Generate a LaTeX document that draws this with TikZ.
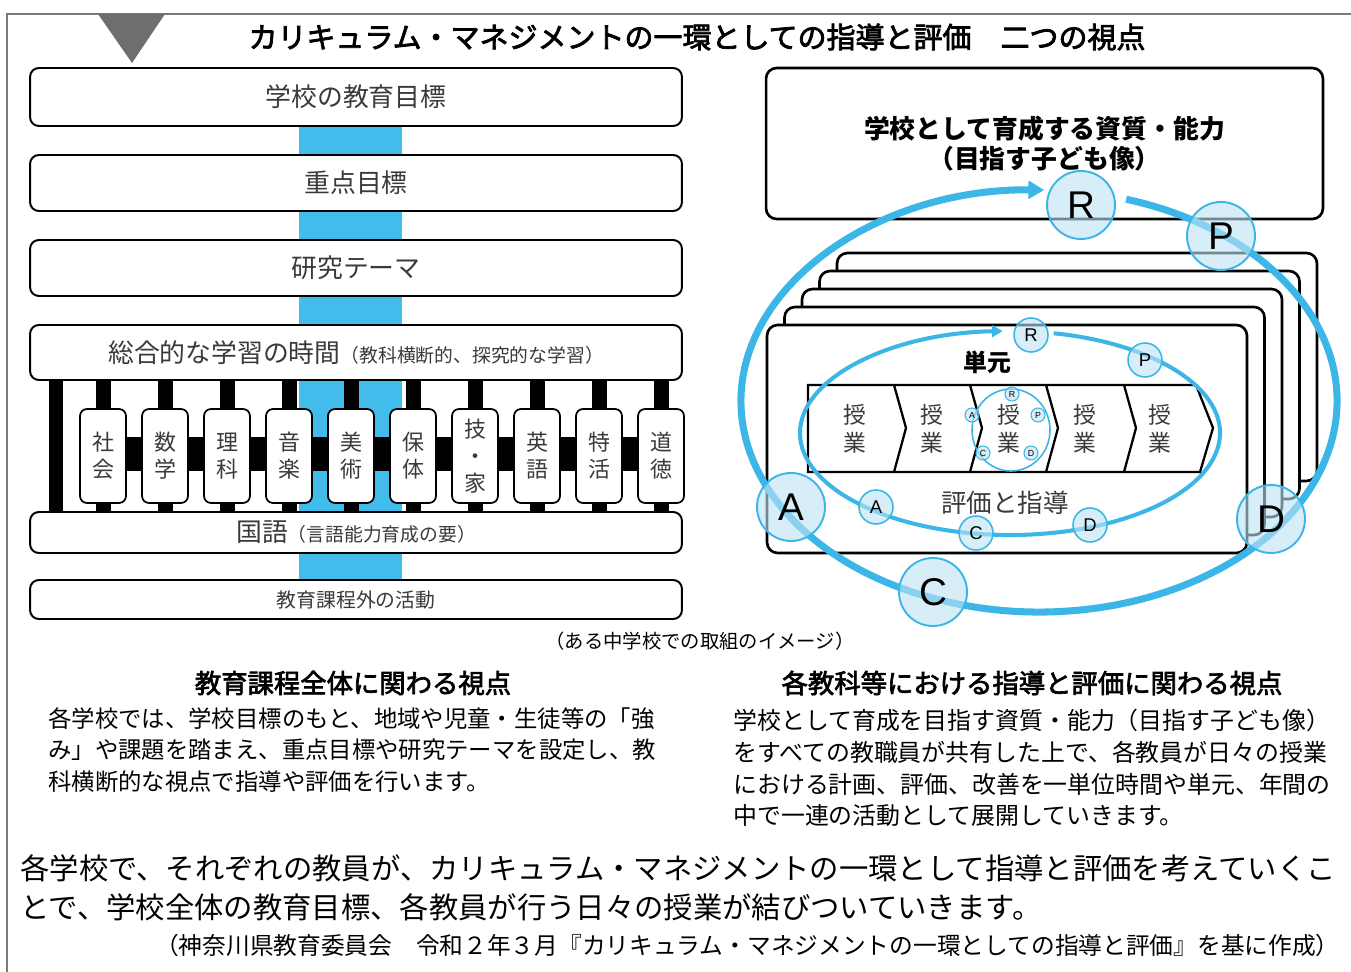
\documentclass[tikz,border=0pt]{standalone}
\usepackage{fontspec}
\setmainfont{Noto Sans CJK JP}
\newfontfamily\latinfont{Liberation Sans}
\newfontfamily\headfont[FakeBold=2.6]{Noto Sans CJK JP}
\usetikzlibrary{arrows.meta,positioning}

\definecolor{loopblue}{HTML}{3BB6E6}
\definecolor{dotfill}{HTML}{BDE3F4}
\definecolor{bandblue}{HTML}{42BCEB}
\definecolor{framegray}{HTML}{7A7A7A}
\definecolor{inkgray}{HTML}{3A3A3A}

\begin{document}
\begin{tikzpicture}[x=0.02cm,y=-0.02cm,
  lbox/.style={draw, line width=1.1pt, rounded corners=5pt, fill=white,
    minimum width=13.04cm, inner sep=0pt, text=inkgray},
  subj/.style={draw, line width=1pt, rounded corners=4pt, fill=white,
    minimum width=0.92cm, minimum height=1.88cm, inner sep=0pt, align=center,
    text=inkgray, font=\fontsize{12.5}{15.5}\selectfont},
  card/.style={draw, line width=1.5pt, rounded corners=6pt, fill=white},
  lesson/.style={align=center, text=inkgray, font=\fontsize{13}{16}\selectfont},
  bigdot/.style={circle, draw=loopblue, line width=1.1pt, fill=dotfill, fill opacity=0.6,
    text opacity=1, minimum size=1.36cm, inner sep=0pt, font=\latinfont\fontsize{22}{22}\selectfont},
  middot/.style={bigdot, line width=0.9pt, minimum size=0.68cm, font=\latinfont\fontsize{10.5}{10.5}\selectfont},
  tinydot/.style={bigdot, line width=0.6pt, minimum size=0.28cm, font=\latinfont\fontsize{5}{5}\selectfont},
  plain/.style={inner sep=0pt, align=left}]

\useasboundingbox (0,0) rectangle (1351,972);

% frame and marker
\draw[framegray, line width=1.2pt] (7,972) -- (7,14) -- (1351,14);
\fill[framegray!90!black] (98,14) -- (165,14) -- (132,63) -- cycle;

\node[font=\headfont\fontsize{16.5}{18}\selectfont] (title) at (697,37)
  {カリキュラム・マネジメントの一環としての指導と評価　二つの視点};

% left: blue band behind the stack
\fill[bandblue] (299,110) rectangle (402,595);

% pillars between the two wide boxes
\fill (49,378) rectangle (63,514);
\fill (103,437) rectangle (661,471);
\foreach \i in {0,...,9}
{
    \fill ({103+62*\i-7.5},378) rectangle ({103+62*\i+7.5},514);
}
\foreach \s [count=\i from 0] in {{社\\会},{数\\学},{理\\科},{音\\楽},{美\\術},{保\\体},{技\\・\\家},{英\\語},{特\\活},{道\\徳}}
{
    \node[subj] (subj\i) at ({103+62*\i},456) {\s};
}

% left: stacked boxes
\node[lbox, minimum height=1.16cm, font=\fontsize{14.7}{16}\selectfont] (goal) at (356,97) {学校の教育目標};
\node[lbox, minimum height=1.12cm, font=\fontsize{14.7}{16}\selectfont] (focus) at (356,183) {重点目標};
\node[lbox, minimum height=1.12cm, font=\fontsize{14.7}{16}\selectfont] (theme) at (356,268) {研究テーマ};
\node[lbox, minimum height=1.10cm] (sogo) at (356,352.5)
  {{\fontsize{14.7}{16}\selectfont 総合的な学習の時間}{\fontsize{10.7}{12}\selectfont （教科横断的、探究的な学習）}};
\node[lbox, minimum height=0.82cm] (kokugo) at (356,532.5)
  {{\fontsize{14.7}{16}\selectfont 国語}{\fontsize{10.7}{12}\selectfont （言語能力育成の要）}};
\node[lbox, minimum height=0.78cm, font=\fontsize{11.3}{13}\selectfont] (extra) at (356,599.5) {教育課程外の活動};

% right: aim box
\node[card, minimum width=11.14cm, minimum height=3.02cm, align=center,
  font=\bfseries\fontsize{14.7}{17}\selectfont] (aim) at (1044.5,143.5)
  {学校として育成する資質・能力\\（目指す子ども像）};

% right: stacked unit cards
\foreach \k in {4,3,2,1}
{
    \draw[card] ({767+17.5*\k},{325-18*\k}) rectangle ({1247+17.5*\k},{553-18*\k});
}
\node[card, minimum width=9.6cm, minimum height=4.56cm] (unit) at (1007,439) {};
\node[font=\bfseries\fontsize{13.6}{15}\selectfont] (unitlabel) at (987,362) {単元};

% chevron strip of lessons
\draw[line width=1.3pt, fill=white] (808,385) -- (1196,385) -- (1213,428) -- (1200,472) -- (808,472) -- cycle;
\foreach \x in {894,970,1046,1124}
{
    \draw[line width=1.3pt] (\x,385) -- ({\x+12},428) -- (\x,472);
}
\foreach \x [count=\n] in {855,932,1009,1085,1160}
{
    \node[lesson] (lesson\n) at (\x,429) {授\\業};
}
\node[text=inkgray, font=\fontsize{14.5}{16}\selectfont] (evallabel) at (1005,503) {評価と指導};

% cycles
\coordinate (bigc) at (1039,401);
\coordinate (unitc) at (1010,433);
\draw[loopblue, line width=4pt, -{Triangle[length=9pt,width=10pt]}]
  ([shift={(-73:298 and 211)}]bigc) arc[start angle=-73, end angle=271, x radius=298, y radius=211];
\draw[loopblue, line width=2.3pt, -{Triangle[length=6pt,width=6.5pt]}]
  ([shift={(-78:210 and 102)}]unitc) arc[start angle=-78, end angle=268, x radius=210, y radius=102];
\draw[loopblue, line width=0.9pt] (1011,430) ellipse [x radius=39, y radius=41];

\node[bigdot] (bigR) at (1081,205) {R};
\node[bigdot] (bigP) at (1221,236) {P};
\node[bigdot] (bigD) at (1271,519) {D};
\node[bigdot] (bigC) at (933,592) {C};
\node[bigdot] (bigA) at (791,507) {A};

\node[middot] (midR) at (1031,335) {R};
\node[middot] (midP) at (1145,360) {P};
\node[middot] (midD) at (1090,525) {D};
\node[middot] (midC) at (976,533) {C};
\node[middot] (midA) at (876,507) {A};

\node[tinydot] (tinyR) at (1012,394) {R};
\node[tinydot] (tinyP) at (1038,415) {P};
\node[tinydot] (tinyD) at (1031,453) {D};
\node[tinydot] (tinyC) at (983,453) {C};
\node[tinydot] (tinyA) at (972,415) {A};

% texts below
\node[font=\fontsize{11}{13}\selectfont] (caption) at (700,641) {（ある中学校での取組のイメージ）};

\node[font=\headfont\fontsize{15}{17}\selectfont] (lefthead) at (353,683) {教育課程全体に関わる視点};
\node[font=\headfont\fontsize{15}{17}\selectfont] (righthead) at (1032,683) {各教科等における指導と評価に関わる視点};

\node[plain, anchor=west, font=\fontsize{13.3}{18.1}\selectfont] (lefttext) at (48,750)
  {各学校では、学校目標のもと、地域や児童・生徒等の「強\\み」や課題を踏まえ、重点目標や研究テーマを設定し、教\\科横断的な視点で指導や評価を行います。};
\node[plain, anchor=west, font=\fontsize{13.6}{18}\selectfont] (righttext) at (733,768)
  {学校として育成を目指す資質・能力（目指す子ども像）\\をすべての教職員が共有した上で、各教員が日々の授業\\における計画、評価、改善を一単位時間や単元、年間の\\中で一連の活動として展開していきます。};

\node[plain, anchor=west, font=\fontsize{16.7}{22}\selectfont] (summary) at (20,887.5)
  {各学校で、それぞれの教員が、カリキュラム・マネジメントの一環として指導と評価を考えていくこ\\とで、学校全体の教育目標、各教員が行う日々の授業が結びついていきます。};
\node[plain, anchor=east, font=\fontsize{13.5}{15}\selectfont] (source) at (1340,945)
  {（神奈川県教育委員会　令和２年３月『カリキュラム・マネジメントの一環としての指導と評価』を基に作成）};

\end{tikzpicture}
\end{document}
